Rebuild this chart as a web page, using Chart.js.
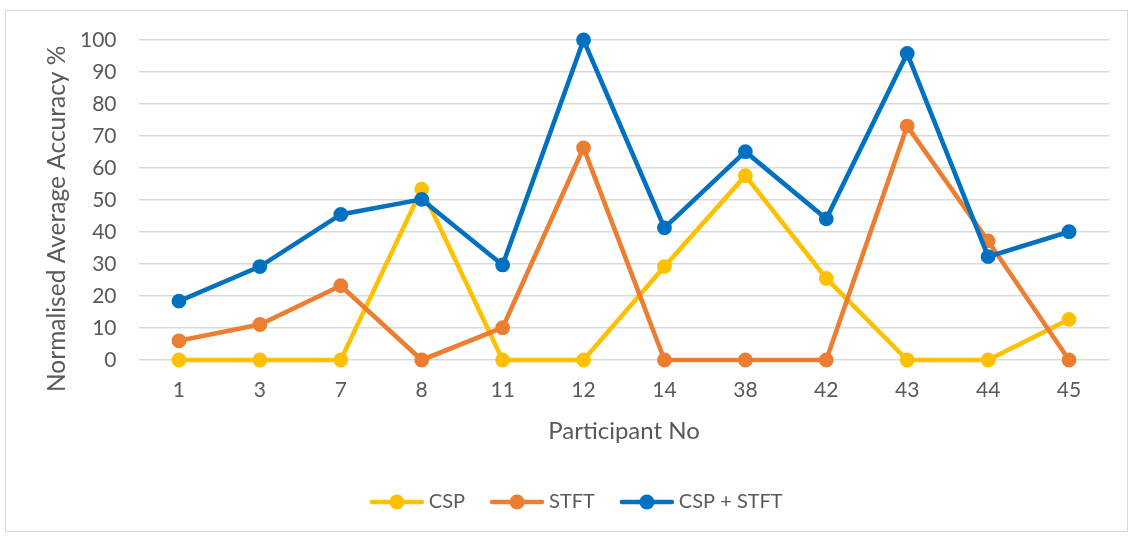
<!DOCTYPE html>
<html>
<head>
<meta charset="utf-8">
<script src="https://cdn.jsdelivr.net/npm/chart.js@4.4.0/dist/chart.umd.min.js"></script>
<style>
  html, body { margin: 0; padding: 0; background: #fff; }
  #box { position: absolute; left: 5px; top: 10px; width: 1123px; height: 522px; box-sizing: border-box; border: 1px solid #d9d9d9; }
  #c { display: block; }
</style>
</head>
<body>
<div id="box"><canvas id="c" width="1121" height="520"></canvas></div>
<script>
const participants = ['1', '3', '7', '8', '11', '12', '14', '38', '42', '43', '44', '45'];
const cspValues      = [0, 0, 0, 53.4, 0, 0, 29.2, 57.6, 25.5, 0, 0, 12.7];
const stftValues     = [6.0, 11.1, 23.2, 0, 10.1, 66.3, 0, 0, 0, 73.1, 37.2, 0];
const combinedValues = [18.4, 29.2, 45.5, 50.2, 29.7, 100, 41.3, 65.1, 44.1, 95.8, 32.3, 40.1];
const yTicks = [0, 10, 20, 30, 40, 50, 60, 70, 80, 90, 100];

const seriesNames = ['CSP', 'STFT', 'CSP + STFT'];
const seriesColors = ['#FFC000', '#ED7D31', '#0070C0'];

const FONT = 'Lato, "Open Sans", sans-serif';
const TXT = '#595959';

function legendImage(color) {
  const cv = document.createElement('canvas');
  cv.width = 56; cv.height = 18;
  const g = cv.getContext('2d');
  g.strokeStyle = color; g.lineWidth = 4.5; g.lineCap = 'round';
  g.beginPath(); g.moveTo(3, 9); g.lineTo(53, 9); g.stroke();
  g.fillStyle = color;
  g.beginPath(); g.arc(28, 9, 7.5, 0, Math.PI * 2); g.fill();
  return cv;
}

function mkDataset(i, values, order) {
  return {
    label: seriesNames[i],
    data: values,
    borderColor: seriesColors[i],
    backgroundColor: seriesColors[i],
    pointBackgroundColor: seriesColors[i],
    pointBorderColor: seriesColors[i],
    borderWidth: 4.6,
    pointRadius: 6,
    pointBorderWidth: 2.8,
    pointHoverRadius: 6,
    tension: 0,
    fill: false,
    clip: false,
    order: order
  };
}

const legendShift = {
  id: 'legendShift',
  afterLayout(chart) {
    if (chart.legend) { chart.legend.left += 21; chart.legend.right += 21; chart.legend.top += 2; chart.legend.bottom += 2; }
  }
};

new Chart(document.getElementById('c'), {
  type: 'line',
  data: {
    labels: participants,
    datasets: [
      mkDataset(0, cspValues, 2),
      mkDataset(1, stftValues, 1),
      mkDataset(2, combinedValues, 0)
    ]
  },
  plugins: [legendShift],
  options: {
    responsive: false,
    animation: false,
    events: [],
    layout: { padding: { left: 0, right: 17.5, top: 29, bottom: 11 } },
    plugins: {
      tooltip: { enabled: false },
      legend: {
        position: 'bottom',
        labels: {
          font: { family: FONT, size: 20 },
          color: TXT,
          usePointStyle: true,
          pointStyleWidth: 44,
          padding: 30,
          sort: (a, b) => a.datasetIndex - b.datasetIndex,
          generateLabels: (chart) => {
            const items = Chart.defaults.plugins.legend.labels.generateLabels(chart);
            items.forEach(it => { it.pointStyle = legendImage(seriesColors[it.datasetIndex]); });
            return items;
          }
        }
      }
    },
    scales: {
      x: {
        offset: true,
        grid: { display: false, drawTicks: false },
        border: { display: false },
        ticks: { font: { family: FONT, size: 21 }, color: TXT, padding: 18, maxRotation: 0 },
        title: { display: true, text: 'Participant No', font: { family: FONT, size: 24 }, color: TXT, padding: { top: 0, bottom: 14.6 } },
        afterFit: (s) => { s.height = 100; }
      },
      y: {
        min: 0, max: 100,
        afterBuildTicks: (s) => { s.ticks = yTicks.map(v => ({ value: v })); },
        grid: { color: '#d9d9d9', lineWidth: 1.5, drawTicks: true, tickLength: 22, tickColor: 'rgba(0,0,0,0)' },
        border: { display: false },
        ticks: { font: { family: FONT, size: 21 }, color: TXT, padding: 0 },
        title: { display: true, text: 'Normalised Average Accuracy %      ', font: { family: FONT, size: 24.5 }, color: TXT, padding: { top: 36.3, bottom: 0 } },
        afterFit: (s) => { s.width = 132.5; }
      }
    }
  }
});
</script>
</body>
</html>
